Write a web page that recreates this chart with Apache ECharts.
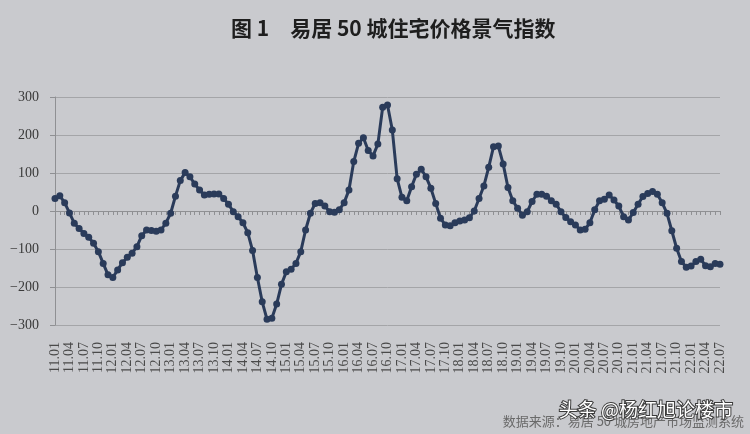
<!DOCTYPE html>
<html>
<head>
<meta charset="utf-8">
<script src="https://cdn.jsdelivr.net/npm/echarts@6/dist/echarts.min.js"></script>
<style>
html,body{margin:0;padding:0;background:#c9cace;}
#chart{width:750px;height:434px;}
</style>
</head>
<body>
<div id="chart"></div>
<script>
// Monthly index values, 2011.01 – 2022.07
var startYear = 11, startMonth = 1, monthCount = 139;
var indexValues = [
  33, 40, 22, -5, -32, -46, -59, -69, -85, -107, -138, -168,
  -175, -155, -136, -122, -111, -94, -65, -50, -51, -53, -50, -32,
  -6, 39, 80, 101, 90, 71, 55, 42, 44, 45, 45, 33,
  18, -2, -15, -31, -57, -104, -175, -239, -285, -282, -245, -193,
  -160, -153, -138, -107, -50, -6, 20, 22, 13, -2, -3, 3,
  22, 55, 130, 178, 193, 159, 145, 176, 273, 279, 213, 85,
  36, 27, 64, 97, 110, 90, 60, 20, -19, -37, -39, -31,
  -26, -24, -18, 0, 33, 66, 115, 169, 171, 124, 62, 27,
  7, -11, -2, 25, 44, 44, 39, 27, 18, -2, -17, -28,
  -37, -50, -48, -31, 3, 27, 31, 42, 29, 13, -15, -24,
  -4, 18, 38, 46, 51, 44, 22, -6, -52, -98, -133, -148,
  -145, -133, -127, -144, -147, -138, -140
];
var yTicks = [-300, -200, -100, 0, 100, 200, 300];
var titleText = '图 1　易居 50 城住宅价格景气指数';
var sourceText = '数据来源：易居 50 城房地产市场监测系统';
var watermarkText = '头条 @杨红旭论楼市';

var categories = [];
(function(){
  var y = startYear, m = startMonth;
  for (var i = 0; i < monthCount; i++) {
    categories.push(y + '.' + (m < 10 ? '0' + m : '' + m));
    m++; if (m > 12) { m = 1; y++; }
  }
})();

var chart = echarts.init(document.getElementById('chart'));
var serif = '"Liberation Serif","DejaVu Serif",serif';
chart.setOption({
  backgroundColor: '#c9cace',
  animation: false,
  title: {
    text: titleText,
    left: 226,
    top: 13,
    textStyle: {fontFamily: '"Noto Sans CJK SC"', fontWeight: 'bold', fontSize: 21, color: '#1e1e1e'}
  },
  grid: {left: 55, right: 30, top: 97, bottom: 109},
  xAxis: [{
    type: 'category',
    data: categories,
    boundaryGap: false,
    position: 'bottom',
    axisLine: {show: false, onZero: false},
    axisTick: {show: false},
    splitLine: {show: false},
    axisLabel: {
      interval: 2, rotate: 90, margin: 17,
      fontFamily: serif, fontSize: 14, color: '#4a4a4a'
    }
  }, {
    type: 'category',
    data: categories,
    boundaryGap: false,
    position: 'bottom',
    axisLine: {show: true, onZero: true, lineStyle: {color: '#8f9093', width: 1}},
    axisTick: {show: true, interval: 0, length: 4, lineStyle: {color: '#8f9093'}},
    axisLabel: {show: false},
    splitLine: {show: false}
  }],
  yAxis: {
    type: 'value',
    min: yTicks[0],
    max: yTicks[yTicks.length - 1],
    interval: 100,
    axisLine: {show: true, lineStyle: {color: '#8f9093'}},
    axisTick: {show: true, length: 5, lineStyle: {color: '#8f9093'}},
    splitLine: {show: true, lineStyle: {color: '#a4a5a8', width: 1}},
    axisLabel: {
      margin: 16, fontFamily: serif, fontSize: 14, color: '#3a3a3a',
      formatter: function (v) { return v < 0 ? '\u2212' + Math.abs(v) : '' + v; }
    }
  },
  series: [{
    type: 'line',
    data: indexValues,
    xAxisIndex: 0,
    symbol: 'circle',
    symbolSize: 7,
    showAllSymbol: true,
    lineStyle: {color: '#2a3b5a', width: 3},
    itemStyle: {color: '#2a3b5a'},
    z: 5
  }],
  graphic: [{
    type: 'text',
    right: 6, bottom: 6,
    style: {text: sourceText, font: '13px "Noto Sans CJK SC"', fill: '#6a6a6a'}
  }, {
    type: 'text',
    right: 16, bottom: 14,
    style: {
      text: watermarkText, font: '19px "Noto Sans CJK SC"',
      fill: '#ffffff', stroke: '#3a3a3a', lineWidth: 2
    },
    z: 100
  }]
});
</script>
</body>
</html>
